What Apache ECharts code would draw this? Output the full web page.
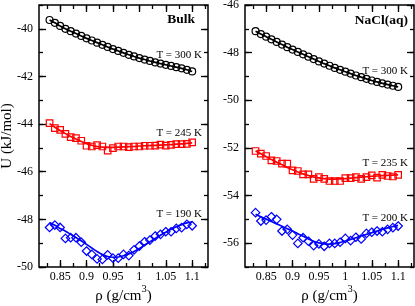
<!DOCTYPE html>
<html><head><meta charset="utf-8">
<script src="https://cdn.jsdelivr.net/npm/echarts@6/dist/echarts.min.js"></script>
<style>html,body{margin:0;padding:0;background:#fff}#c{width:415px;height:306px}</style>
</head><body><div id="c"></div>
<script>
// density values (g/cm^3)
const rho = [0.83,0.84,0.85,0.86,0.87,0.88,0.89,0.90,0.91,0.92,0.93,0.94,0.95,0.96,0.97,0.98,0.99,1.00,1.01,1.02,1.03,1.04,1.05,1.06,1.07,1.08,1.09,1.10];

// Bulk panel
const bulk300 = [-39.63,-39.75,-39.88,-40.00,-40.10,-40.20,-40.30,-40.40,-40.49,-40.58,-40.67,-40.76,-40.85,-40.93,-41.01,-41.09,-41.16,-41.23,-41.29,-41.35,-41.41,-41.46,-41.51,-41.56,-41.61,-41.66,-41.72,-41.79];
const bulk245 = [-43.96,-44.17,-44.24,-44.41,-44.55,-44.59,-44.70,-44.91,-44.94,-44.88,-44.94,-45.11,-45.01,-44.94,-44.94,-44.97,-44.94,-44.94,-44.91,-44.91,-44.90,-44.86,-44.90,-44.87,-44.84,-44.84,-44.83,-44.77];
const bulk245Fit = [-43.98,-44.13,-44.27,-44.40,-44.52,-44.63,-44.73,-44.82,-44.89,-44.94,-44.97,-44.98,-44.98,-44.97,-44.96,-44.95,-44.94,-44.92,-44.91,-44.90,-44.89,-44.88,-44.87,-44.86,-44.84,-44.83,-44.81,-44.79];
const bulk190 = [-48.34,-48.24,-48.34,-48.80,-48.77,-48.77,-48.96,-49.33,-49.47,-49.66,-49.68,-49.49,-49.63,-49.63,-49.47,-49.52,-49.28,-49.12,-48.94,-48.87,-48.70,-48.63,-48.52,-48.52,-48.38,-48.35,-48.21,-48.27];
const bulk190Fit = [-48.13,-48.25,-48.38,-48.50,-48.63,-48.76,-48.90,-49.05,-49.20,-49.35,-49.48,-49.56,-49.59,-49.58,-49.53,-49.45,-49.35,-49.22,-49.08,-48.94,-48.80,-48.67,-48.54,-48.42,-48.31,-48.22,-48.15,-48.10];

// NaCl(aq) panel
const nacl300 = [-47.10,-47.22,-47.33,-47.44,-47.55,-47.66,-47.77,-47.87,-47.97,-48.07,-48.17,-48.27,-48.37,-48.46,-48.55,-48.64,-48.72,-48.80,-48.88,-48.96,-49.03,-49.10,-49.17,-49.23,-49.29,-49.34,-49.39,-49.44];
const nacl235 = [-52.13,-52.24,-52.34,-52.52,-52.55,-52.66,-52.66,-52.94,-52.97,-53.11,-53.11,-53.30,-53.23,-53.30,-53.39,-53.39,-53.39,-53.27,-53.27,-53.23,-53.30,-53.23,-53.15,-53.25,-53.13,-53.18,-53.20,-53.13];
const nacl235Fit = [-52.12,-52.25,-52.37,-52.49,-52.60,-52.71,-52.82,-52.92,-53.01,-53.09,-53.16,-53.22,-53.26,-53.29,-53.31,-53.31,-53.30,-53.29,-53.27,-53.25,-53.23,-53.21,-53.19,-53.18,-53.16,-53.15,-53.14,-53.13];
const nacl200 = [-54.72,-55.07,-55.03,-54.89,-55.00,-55.49,-55.42,-55.66,-56.01,-55.77,-55.92,-56.10,-56.03,-56.13,-56.01,-56.01,-55.96,-55.80,-55.89,-55.75,-55.82,-55.59,-55.54,-55.49,-55.52,-55.42,-55.35,-55.28];
const nacl200Fit = [-54.79,-54.89,-54.99,-55.09,-55.19,-55.29,-55.39,-55.49,-55.60,-55.71,-55.82,-55.92,-55.99,-56.03,-56.04,-56.02,-55.97,-55.91,-55.84,-55.77,-55.70,-55.63,-55.56,-55.49,-55.42,-55.36,-55.30,-55.25];

// axis ticks
const xTicks = [0.85,0.9,0.95,1,1.05,1.1];
const xMinorTicks = [0.825,0.85,0.875,0.9,0.925,0.95,0.975,1,1.025,1.05,1.075,1.1,1.125];
const yTicksBulk = [-50,-48,-46,-44,-42,-40];
const yMinorBulk = [-50,-49,-48,-47,-46,-45,-44,-43,-42,-41,-40,-39];
const yTicksNaCl = [-56,-54,-52,-50,-48,-46];
const yMinorNaCl = [-57,-56,-55,-54,-53,-52,-51,-50,-49,-48,-47,-46];

const FONT = '"Liberation Serif","Times New Roman",serif';
const xMin = 0.81, xMax = 1.13;
const fmt = v => String(v);

const panels = [
  {left: 39, yMin: -50, yMax: -39, yMajor: yTicksBulk, yMinor: yMinorBulk, yName: 'U (kJ/mol)',
   sets: [[bulk300, bulk300, '#000000', 'circle', 7], [bulk245, bulk245Fit, '#ff0000', 'rect', 6.5], [bulk190, bulk190Fit, '#0000ff', 'diamond', 8.5]]},
  {left: 245, yMin: -57, yMax: -46, yMajor: yTicksNaCl, yMinor: yMinorNaCl, yName: '',
   sets: [[nacl300, nacl300, '#000000', 'circle', 7], [nacl235, nacl235Fit, '#ff0000', 'rect', 6.5], [nacl200, nacl200Fit, '#0000ff', 'diamond', 8.5]]}
];

const grids = [], xAxes = [], yAxes = [], series = [];
panels.forEach((p, gi) => {
  grids.push({left: p.left, top: 5, width: 169, height: 262, show: true, borderColor: '#000', borderWidth: 1.5, backgroundColor: 'transparent', outerBoundsMode: 'none'});
  [['bottom', true], ['bottom', false], ['top', true], ['top', false]].forEach(([pos, major], k) => {
    xAxes.push({
      type: 'value', gridIndex: gi, position: pos, min: xMin, max: xMax,
      axisLine: {show: false}, splitLine: {show: false},
      axisTick: {show: true, inside: true, length: major ? 7 : 4, lineStyle: {color: '#000', width: 1.3}, customValues: major ? xTicks : xMinorTicks},
      axisLabel: {show: k === 0, customValues: xTicks, formatter: fmt, color: '#000', fontFamily: FONT, fontSize: 12, margin: 4},
      name: k === 0 ? '{b|ρ (g/cm}{s|3}{b|)}' : '',
      nameLocation: 'middle', nameGap: 22, nameMoveOverlap: false,
      nameTextStyle: {color: '#000', fontFamily: FONT, fontSize: 15,
        rich: {b: {fontFamily: FONT, fontSize: 15, color: '#000', lineHeight: 15},
               s: {fontFamily: FONT, fontSize: 10.5, color: '#000', lineHeight: 11, padding: [0, 0, 14, 0]}}}
    });
  });
  [['left', true], ['left', false], ['right', true], ['right', false]].forEach(([pos, major], k) => {
    yAxes.push({
      type: 'value', gridIndex: gi, position: pos, min: p.yMin, max: p.yMax,
      axisLine: {show: false}, splitLine: {show: false},
      axisTick: {show: true, inside: true, length: major ? 7 : 4, lineStyle: {color: '#000', width: 1.3}, customValues: major ? p.yMajor : p.yMinor},
      axisLabel: {show: k === 0, customValues: p.yMajor, formatter: fmt, color: '#000', fontFamily: FONT, fontSize: 12, margin: 6},
      name: k === 0 ? p.yName : '', nameLocation: 'middle', nameGap: 24, nameMoveOverlap: false,
      nameTextStyle: {color: '#000', fontFamily: FONT, fontSize: 15}
    });
  });
  p.sets.forEach(([pts, fit, color, sym, size]) => {
    series.push({
      type: 'line', xAxisIndex: gi * 4, yAxisIndex: gi * 4, smooth: 0.3, showSymbol: false, silent: true,
      lineStyle: {color: color, width: 1.7}, data: rho.map((x, i) => [x, fit[i]]), z: 2
    });
    series.push({
      type: 'scatter', xAxisIndex: gi * 4, yAxisIndex: gi * 4, symbol: sym, symbolSize: size, silent: true,
      itemStyle: {color: 'rgba(0,0,0,0)', borderColor: color, borderWidth: 1.2, opacity: 1},
      data: rho.map((x, i) => [x, pts[i]]), z: 3
    });
  });
});

const txt = (x, y, text, size, bold) => ({type: 'text', x: x, y: y, silent: true,
  style: {text: text, align: 'right', verticalAlign: 'middle', fill: '#000', font: (bold ? 'bold ' : '') + size + 'px ' + FONT}});

const chart = echarts.init(document.getElementById('c'), null, {renderer: 'canvas'});
chart.setOption({
  animation: false,
  backgroundColor: '#fff',
  grid: grids, xAxis: xAxes, yAxis: yAxes, series: series,
  graphic: [
    txt(195, 20, 'Bulk', 13.5, true),
    txt(202, 55.5, 'T = 300 K', 11),
    txt(202, 133, 'T = 245 K', 11),
    txt(202, 214.5, 'T = 190 K', 11),
    txt(408, 21, 'NaCl(aq)', 13.5, true),
    txt(408, 71.5, 'T = 300 K', 11),
    txt(408, 163.5, 'T = 235 K', 11),
    txt(408, 218, 'T = 200 K', 11)
  ]
});
</script></body></html>
